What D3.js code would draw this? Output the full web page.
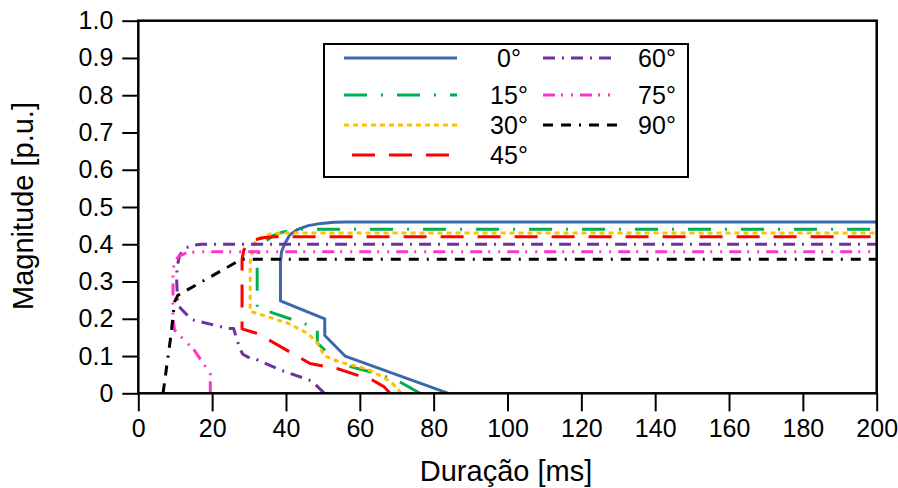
<!DOCTYPE html>
<meta charset="utf-8">
<html>
<head>
<script src="https://d3js.org/d3.v7.min.js"></script>
<style>
body { margin: 0; background: #fff; }
text { font-family: Arial, "Liberation Sans", sans-serif; fill: #000; }
</style>
</head>
<body>
<div id="chart"></div>
<script>

// angle labels, one per series
var angles = ["0°", "15°", "30°", "45°", "60°", "75°", "90°"];

// series: [duração ms, magnitude p.u.]
var s0 = [[84,0],[56,0.1],[50.5,0.155],[50.5,0.2],[38.5,0.248],[38.5,0.35],[38.8,0.38],[39.6,0.40],[41,0.425],[43.2,0.44],[46,0.45],[49.5,0.456],[53,0.459],[56,0.46],[200,0.46]];
var s15 = [[76.3,0],[70,0.035],[63,0.057],[54.3,0.08],[48.5,0.135],[48.5,0.175],[32.2,0.23],[32.2,0.36],[32.8,0.385],[34.2,0.406],[36.5,0.423],[39.2,0.433],[43.6,0.44],[200,0.44]];
var s30 = [[71.2,0],[69,0.025],[66,0.045],[62,0.065],[55,0.083],[50.4,0.1],[48.6,0.134],[46,0.16],[40.6,0.188],[30.3,0.22],[30.3,0.35],[30.8,0.38],[31.5,0.403],[33,0.418],[36,0.428],[39,0.43],[200,0.43]];
var s45 = [[68.2,0],[66.5,0.018],[63.5,0.035],[59.5,0.048],[54,0.066],[46.5,0.08],[32.4,0.16],[28.1,0.173],[28.1,0.36],[28.6,0.385],[29.7,0.4],[31.5,0.412],[34.2,0.418],[37,0.42],[200,0.42]];
var s60 = [[50.4,0],[47,0.033],[38.7,0.062],[31.5,0.093],[29.7,0.097],[28.3,0.105],[27.5,0.12],[26.8,0.142],[25.8,0.174],[24.2,0.174],[14.4,0.198],[10.7,0.236],[10.4,0.3],[10.5,0.34],[11.2,0.37],[12.5,0.388],[14.5,0.397],[17,0.4],[200,0.4]];
var s75 = [[19.5,0],[19.5,0.053],[15.2,0.115],[9.8,0.17],[9.4,0.2],[9.4,0.33],[9.9,0.355],[11,0.368],[13,0.377],[16,0.38],[200,0.38]];
var s90 = [[6.7,0],[7.8,0.08],[8.9,0.16],[9.8,0.245],[10.7,0.263],[28,0.36],[200,0.36]];

var xTicks = [0, 20, 40, 60, 80, 100, 120, 140, 160, 180, 200];
var yTicks = [0, 0.1, 0.2, 0.3, 0.4, 0.5, 0.6, 0.7, 0.8, 0.9, 1.0];

var allSeries = [s0, s15, s30, s45, s60, s75, s90];
var colors = ["#3a67ad", "#00b050", "#ffc000", "#ff0000", "#7030a0", "#ff33cc", "#000000"];
var dashes = ["none", "23,14,2,14", "5,4", "23,14", "12,7,2,7", "12,6,2,8,2,7", "10,8,10,8,2,8"];

var W = 898, H = 488;
var margin = {top: 20.7, right: 21.3, bottom: 94.7, left: 138.3},
    width = W - margin.left - margin.right,
    height = H - margin.top - margin.bottom;

var svg = d3.select("#chart")
  .append("svg")
    .attr("width", W)
    .attr("height", H)
  .append("g")
    .attr("transform", "translate(" + margin.left + "," + margin.top + ")");

var x = d3.scaleLinear().domain([0, 200]).range([0, width]);
var y = d3.scaleLinear().domain([0, 1]).range([height, 0]);

svg.append("clipPath").attr("id", "clip")
  .append("rect").attr("width", width).attr("height", height);

// lines
var line = d3.line()
  .x(function(d) { return x(d[0]); })
  .y(function(d) { return y(d[1]); });

svg.append("g").attr("clip-path", "url(#clip)")
  .selectAll("path")
  .data(allSeries)
  .enter()
  .append("path")
    .attr("d", line)
    .attr("fill", "none")
    .attr("stroke", function(d, i) { return colors[i]; })
    .attr("stroke-width", 3)
    .attr("stroke-dasharray", function(d, i) { return dashes[i]; })
    .attr("stroke-linejoin", "round");

// axes
var xAxis = svg.append("g")
  .attr("transform", "translate(0," + height + ")")
  .call(d3.axisBottom(x).tickValues(xTicks).tickSize(18).tickPadding(8).tickSizeOuter(0));
var yAxis = svg.append("g")
  .call(d3.axisLeft(y).tickValues(yTicks).tickSize(16).tickPadding(9).tickSizeOuter(0)
    .tickFormat(function(d) { return d === 0 ? "0" : d3.format(".1f")(d); }));

[xAxis, yAxis].forEach(function(a) {
  a.selectAll("text").style("font-size", "25px").style("font-family", "Arial, 'Liberation Sans', sans-serif");
  a.selectAll("line").attr("stroke", "#000").attr("stroke-width", 2);
  a.select(".domain").remove();
});

// frame around plot
svg.append("rect")
  .attr("width", width)
  .attr("height", height)
  .attr("fill", "none")
  .attr("stroke", "#000")
  .attr("stroke-width", 2.5);

// axis titles
svg.append("text")
  .attr("text-anchor", "middle")
  .attr("x", 506 - margin.left)
  .attr("y", 481 - margin.top)
  .style("font-size", "29px")
  .text("Duração [ms]");

svg.append("text")
  .attr("text-anchor", "middle")
  .attr("transform", "translate(" + (33 - margin.left) + "," + (206 - margin.top) + ") rotate(-90)")
  .style("font-size", "29px")
  .text("Magnitude [p.u.]");

// legend
var lg = svg.append("g").attr("transform", "translate(" + (324 - margin.left) + "," + (44 - margin.top) + ")");
lg.append("rect")
  .attr("width", 364).attr("height", 133)
  .attr("fill", "#fff").attr("stroke", "#000").attr("stroke-width", 2);

var legendPos = [
  {x1: 20, x2: 133, tx: 185, ty: 14},
  {x1: 20, x2: 133, tx: 185, ty: 51},
  {x1: 20, x2: 133, tx: 185, ty: 81},
  {x1: 28, x2: 126, tx: 185, ty: 111},
  {x1: 219, x2: 288, tx: 333, ty: 14},
  {x1: 219, x2: 289, tx: 333, ty: 51},
  {x1: 219, x2: 294, tx: 333, ty: 81}
];

angles.forEach(function(a, i) {
  var p = legendPos[i];
  lg.append("line")
    .attr("x1", p.x1).attr("x2", p.x2)
    .attr("y1", p.ty).attr("y2", p.ty)
    .attr("stroke", colors[i])
    .attr("stroke-width", 3)
    .attr("stroke-dasharray", dashes[i]);
  lg.append("text")
    .attr("x", p.tx).attr("y", p.ty)
    .attr("dy", "0.35em")
    .attr("text-anchor", "middle")
    .style("font-size", "25px")
    .text(a);
});

</script>
</body>
</html>
